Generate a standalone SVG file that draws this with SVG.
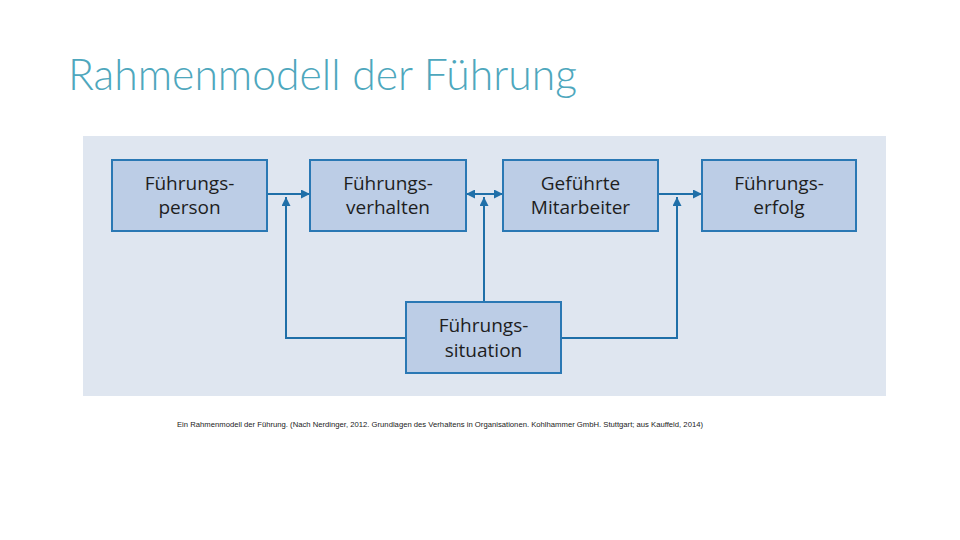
<svg xmlns="http://www.w3.org/2000/svg" width="960" height="540" viewBox="0 0 960 540">
<style>
.box{fill:#bccde6;stroke:#2a78b4;stroke-width:2}
.lbl{font-family:"Open Sans","Noto Sans",sans-serif;font-size:19px;fill:#1e1e1e;text-anchor:middle}
.con{fill:none;stroke:#1f6fa8;stroke-width:2}
</style>
<defs>
<marker id="ah" viewBox="0 0 10 10" refX="10" refY="5" markerWidth="4.5" markerHeight="4.5" orient="auto-start-reverse" markerUnits="strokeWidth">
<path d="M0,0 L10,5 L0,10 z" fill="#1f6fa8"/>
</marker>
</defs>
<rect width="960" height="540" fill="#ffffff"/>
<text x="68" y="90" font-family="Lato,'Open Sans',sans-serif" font-weight="300" font-size="42.7" fill="#4ea7bd">Rahmenmodell der Führung</text>
<rect x="83" y="136" width="803" height="260" fill="#dfe6f0"/>
<g id="connectors">
<line class="con" x1="267" y1="194" x2="310" y2="194" marker-end="url(#ah)"/>
<line class="con" x1="466" y1="194" x2="503" y2="194" marker-start="url(#ah)" marker-end="url(#ah)"/>
<line class="con" x1="658" y1="194" x2="702" y2="194" marker-end="url(#ah)"/>
<polyline class="con" points="406,338 286,338 286,197" marker-end="url(#ah)"/>
<line class="con" x1="484" y1="302" x2="484" y2="197" marker-end="url(#ah)"/>
<polyline class="con" points="561,338 677,338 677,197" marker-end="url(#ah)"/>
</g>
<g id="fuehrungsperson">
<rect class="box" x="112" y="160" width="155" height="71"/>
<text class="lbl" x="189.5" y="190">Führungs-</text>
<text class="lbl" x="189.5" y="214">person</text>
</g>
<g id="fuehrungsverhalten">
<rect class="box" x="310" y="160" width="156" height="71"/>
<text class="lbl" x="388" y="190">Führungs-</text>
<text class="lbl" x="388" y="214">verhalten</text>
</g>
<g id="gefuehrte-mitarbeiter">
<rect class="box" x="503" y="160" width="155" height="71"/>
<text class="lbl" x="580.5" y="190">Geführte</text>
<text class="lbl" x="580.5" y="214">Mitarbeiter</text>
</g>
<g id="fuehrungserfolg">
<rect class="box" x="702" y="160" width="154" height="71"/>
<text class="lbl" x="779" y="190">Führungs-</text>
<text class="lbl" x="779" y="214">erfolg</text>
</g>
<g id="fuehrungssituation">
<rect class="box" x="406" y="302" width="155" height="71"/>
<text class="lbl" x="483.5" y="332">Führungs-</text>
<text class="lbl" x="483.5" y="357">situation</text>
</g>
<text x="177" y="427" font-family="'Liberation Sans',Arial,sans-serif" font-size="7.6" fill="#222" textLength="526" lengthAdjust="spacingAndGlyphs">Ein Rahmenmodell der Führung. (Nach Nerdinger, 2012. Grundlagen des Verhaltens in Organisationen. Kohlhammer GmbH. Stuttgart; aus Kauffeld, 2014)</text>
</svg>
